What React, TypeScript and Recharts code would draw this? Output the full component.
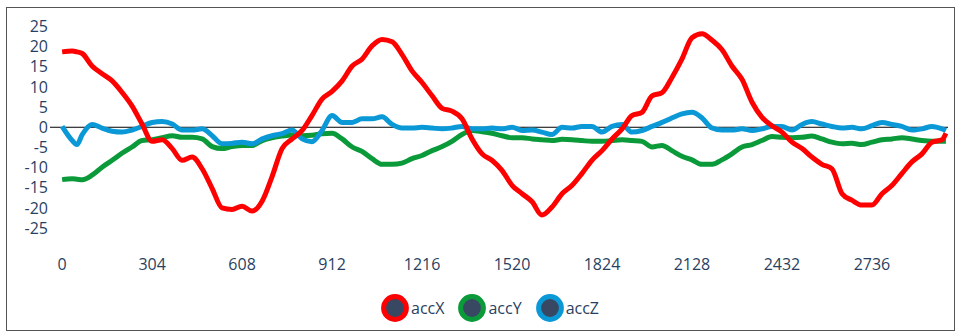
import React from 'react';
import { LineChart, Line, XAxis, YAxis, ReferenceLine } from 'recharts';

// Sample number of each reading
const sampleIndex = [
  0, 34, 50, 68, 101, 135, 169, 203, 236, 270, 304, 338, 372, 405, 439, 473, 507, 540, 574,
  608, 642, 676, 709, 743, 777, 811, 844, 878, 912, 946, 980, 1013, 1047, 1081, 1115, 1148,
  1182, 1216, 1250, 1284, 1317, 1351, 1385, 1419, 1452, 1486, 1520, 1554, 1588, 1621, 1655,
  1689, 1723, 1756, 1790, 1824, 1858, 1892, 1925, 1959, 1993, 2027, 2060, 2094, 2128, 2162,
  2196, 2229, 2263, 2297, 2331, 2364, 2398, 2432, 2466, 2500, 2533, 2567, 2601, 2635, 2668,
  2702, 2736, 2770, 2804, 2837, 2871, 2905, 2939, 2973, 2986,
];

const accX = [
  18.7, 18.9, 18.7, 18.3, 15.2, 13.3, 11.5, 8.6, 5.3, 0.8, -3.5, -3.1, -5.3, -8.2, -7.4, -10.3,
  -15.2, -20.0, -20.4, -19.6, -20.8, -18.3, -12.3, -5.3, -2.9, -0.8, 2.9, 7.0, 8.9, 11.5, 15.2,
  16.9, 20.2, 21.8, 21.2, 18.1, 14.0, 11.1, 7.8, 4.7, 4.0, 2.1, -2.9, -6.6, -8.2, -10.7, -14.4,
  -16.5, -18.5, -21.8, -19.8, -16.5, -14.4, -11.5, -8.2, -5.8, -2.9, -0.4, 2.9, 3.7, 7.8, 8.6,
  12.3, 16.9, 22.2, 23.2, 21.6, 19.3, 15.2, 11.9, 6.2, 2.5, 0.4, -1.2, -3.7, -5.3, -7.4, -9.2,
  -10.3, -16.5, -18.1, -19.3, -19.3, -16.5, -14.4, -11.5, -8.6, -6.6, -3.7, -3.1, -1.5,
];

const accY = [
  -13.0, -12.8, -12.9, -13.0, -11.9, -9.9, -8.2, -6.4, -4.9, -3.3, -3.1, -2.6, -2.1, -2.5, -2.5,
  -2.9, -4.8, -5.3, -4.8, -4.5, -4.5, -3.3, -2.6, -2.2, -1.9, -2.1, -2.0, -1.6, -1.5, -2.9, -4.9,
  -6.0, -7.8, -9.2, -9.2, -8.9, -7.8, -7.0, -5.8, -4.8, -3.5, -1.8, -0.8, -1.1, -1.5, -2.1, -2.6,
  -2.6, -2.9, -3.1, -3.3, -3.0, -3.1, -3.3, -3.5, -3.5, -3.3, -3.1, -3.3, -3.5, -4.9, -4.5, -5.8,
  -7.2, -8.1, -9.2, -9.2, -8.1, -6.6, -4.9, -4.3, -3.3, -2.3, -2.5, -2.6, -2.5, -2.2, -2.9, -3.7,
  -4.1, -4.0, -4.3, -3.7, -3.1, -2.9, -2.6, -2.9, -3.3, -3.5, -3.5, -3.5,
];

const accZ = [
  0.2, -3.3, -4.3, -1.8, 0.7, -0.2, -1.0, -1.2, -0.7, 0.2, 1.2, 1.4, 0.8, -0.7, -0.7, -0.4, -2.1,
  -4.1, -4.0, -3.7, -4.1, -2.9, -2.1, -1.6, -0.7, -2.9, -3.6, -0.8, 2.9, 1.2, 1.2, 2.1, 2.1, 2.6,
  0.7, -0.2, -0.2, 0, -0.2, -0.4, -0.2, 0.2, -0.4, -0.4, -0.2, -0.4, 0, -0.8, -0.7, -1.2, -1.8, 0,
  -0.2, 0.2, 0.2, -1.2, 0.2, 0.7, -1.2, -0.8, 0.2, 1.2, 2.3, 3.3, 3.7, 2.3, -0.2, -0.7, -0.7,
  -0.4, -0.8, -0.4, 0.2, 0.2, -0.7, 0.7, 1.4, 0.8, 0.2, -0.2, 0, -0.4, 0.4, 1.2, 0.7, 0.2, -0.7,
  -0.4, 0.2, -0.4, -0.8,
];

const xTicks = [0, 304, 608, 912, 1216, 1520, 1824, 2128, 2432, 2736];
const yTicks = [-25, -20, -15, -10, -5, 0, 5, 10, 15, 20, 25];

const seriesNames = ['accX', 'accY', 'accZ'];
const seriesColors: Record<string, string> = {
  accX: '#ff0000',
  accY: '#0b9a3a',
  accZ: '#0b98d6',
};
// drawing order: later entries sit on top
const drawOrder = ['accY', 'accZ', 'accX'];

const rows = sampleIndex.map((t, i) => ({
  t,
  accX: accX[i],
  accY: accY[i],
  accZ: accZ[i],
}));

const textColor = '#2a3f5f';
const fontFamily = '"Open Sans", sans-serif';
const tickStyle = { fill: textColor, fontSize: 16, fontFamily };

function LegendRow() {
  return (
    <div
      style={{
        position: 'absolute',
        left: 381,
        top: 294,
        display: 'flex',
        alignItems: 'center',
        fontFamily,
        fontSize: 16,
        color: textColor,
      }}
    >
      {seriesNames.map((name) => (
        <div key={name} style={{ display: 'flex', alignItems: 'center', marginRight: 14 }}>
          <svg width={28} height={28}>
            <circle cx={14} cy={14} r={11.4} fill="#394862" stroke={seriesColors[name]} strokeWidth={5} />
          </svg>
          <span style={{ marginLeft: 2, lineHeight: '28px' }}>{name}</span>
        </div>
      ))}
    </div>
  );
}

export default function App() {
  return (
    <div
      style={{
        position: 'absolute',
        left: 0,
        top: 0,
        width: 959,
        height: 334,
        background: '#ffffff',
        fontFamily,
      }}
    >
      <div
        style={{
          position: 'absolute',
          left: 6,
          top: 7,
          width: 947,
          height: 322,
          border: '1px solid #555555',
        }}
      />
      <div style={{ position: 'absolute', left: 0, top: 0 }}>
        <LineChart
          width={959}
          height={334}
          data={rows}
          margin={{ top: 26.5, right: 11, bottom: 66, left: 0 }}
        >
          <XAxis
            dataKey="t"
            type="number"
            domain={[-41, 2993]}
            allowDataOverflow
            ticks={xTicks}
            interval={0}
            axisLine={false}
            tickLine={false}
            tickSize={0}
            tickMargin={31}
            height={40}
            tick={tickStyle}
          />
          <YAxis
            type="number"
            domain={[-25, 25]}
            ticks={yTicks}
            interval={0}
            axisLine={false}
            tickLine={false}
            tickSize={0}
            tickMargin={2}
            width={50}
            tick={tickStyle}
          />
          <ReferenceLine y={0} stroke="#000000" strokeWidth={1} />
          {drawOrder.map((name) => (
            <Line
              key={name}
              type="monotone"
              dataKey={name}
              stroke={seriesColors[name]}
              strokeWidth={5}
              strokeLinejoin="round"
              dot={false}
              activeDot={false}
              isAnimationActive={false}
            />
          ))}
        </LineChart>
      </div>
      <LegendRow />
    </div>
  );
}
